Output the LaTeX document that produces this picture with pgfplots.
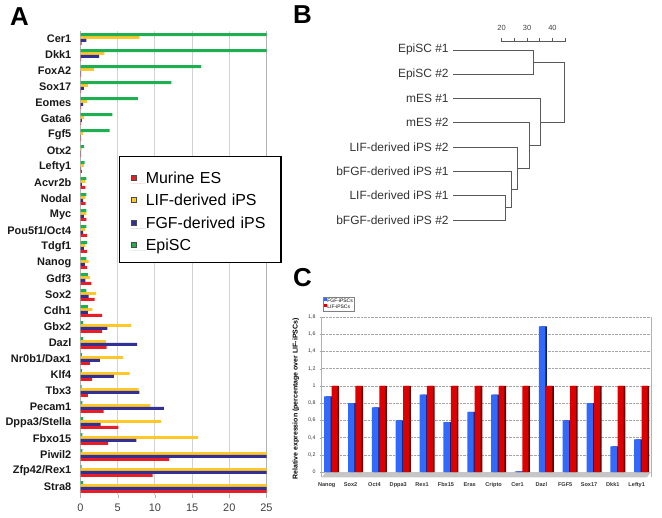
\documentclass[border=0pt]{standalone}
\usepackage{fontspec}
\setmainfont{Liberation Sans}
\usepackage{pgfplots}
\usepackage{pgfplotstable}
\pgfplotsset{compat=1.18}
\definecolor{cRed}{RGB}{232,30,38}
\definecolor{cYel}{RGB}{255,200,40}
\definecolor{cBlu}{RGB}{48,48,150}
\definecolor{cGrn}{RGB}{30,175,80}
\definecolor{cBlue2}{RGB}{50,105,250}
\definecolor{cBlue2d}{RGB}{10,30,120}
\definecolor{cRed2}{RGB}{220,0,0}
\definecolor{cRed2d}{RGB}{105,0,0}

\pgfplotstableread{
y es lif fgf epi
28 0.15 7.9 0.8 25
27 0.1 3.2 2.5 25
26 0.1 1.8 0.1 16.2
25 0.1 1.0 0.45 12.2
24 0.1 0.9 0.35 7.7
23 0.1 0.45 0.2 4.3
22 0.1 0.35 0.05 3.9
21 0.1 0.15 0.05 0.5
20 0.2 0.45 0.1 0.55
19 0.65 0.65 0.2 0.8
18 0.7 0.65 0.35 0.8
17 0.8 0.8 0.45 0.8
16 0.9 0.6 0.35 0.8
15 0.9 0.65 0.45 0.9
14 0.9 1.1 0.6 0.8
13 1.45 1.25 0.65 1.0
12 1.9 2.1 1.1 0.8
11 2.9 1.6 1.0 1.0
10 2.9 6.8 3.6 0.35
9 3.5 3.4 7.6 0.35
8 1.25 5.7 2.6 0.2
7 1.55 6.6 4.5 0.2
6 1.0 7.8 7.9 0.15
5 3.1 9.4 11.2 0.25
4 5.1 10.8 2.7 0.35
3 3.7 15.8 7.5 0.25
2 11.9 25 25 0.25
1 9.7 25 25 0.15
0 25 25 25 0.35
}\dataA

\pgfplotstableread{
x fgf lif
0 0.88 1
1 0.80 1
2 0.75 1
3 0.60 1
4 0.90 1
5 0.58 1
6 0.70 1
7 0.90 1
8 0.01 1
9 1.69 1
10 0.60 1
11 0.80 1
12 0.30 1
13 0.38 1
}\dataC

\begin{document}
\begin{tikzpicture}
\useasboundingbox (0bp,0bp) rectangle (662bp,518bp);

% ---------------- Panel A ----------------
\begin{axis}[
  at={(80.5bp,23bp)}, anchor=south west,
  scale only axis, width=186bp, height=464bp,
  xbar, bar width=0.18,
  xmin=0, xmax=25, ymin=-0.5, ymax=28.5,
  xtick={0,5,...,25},
  ytick={0,...,28},
  yticklabels={Stra8,Zfp42/Rex1,Piwil2,Fbxo15,Dppa3/Stella,Pecam1,Tbx3,Klf4,Nr0b1/Dax1,Dazl,Gbx2,Cdh1,Sox2,Gdf3,Nanog,Tdgf1,Pou5f1/Oct4,Myc,Nodal,Acvr2b,Lefty1,Otx2,Fgf5,Gata6,Eomes,Sox17,FoxA2,Dkk1,Cer1},
  minor ytick={-0.5,0.5,...,28.5},
  xtick pos=left, ytick pos=left,
  tick align=outside,
  major tick length=3bp, minor tick length=3bp,
  ytick style={draw=none},
  xtick style={gray!60},
  minor y tick style={gray!60},
  separate axis lines,
  x axis line style={draw=none},
  y axis line style={draw=gray!60},
  xmajorgrids, grid style={gray!35, line width=0.9bp},
  /pgf/number format/assume math mode=true,
  yticklabel style={font=\bfseries\fontsize{11}{12}\selectfont, text=black!90, inner xsep=2bp, xshift=-4bp},
  xticklabel style={font=\fontsize{11}{12}\selectfont, text=black!75, yshift=-2bp},
  legend style={at={(0.207,0.7306)}, anchor=north west, draw=black, line width=1.3bp,
     font=\fontsize{16}{18}\selectfont, row sep=3bp, inner xsep=11bp, inner ysep=9.5bp,
     nodes={inner sep=0bp, text height=17bp, text depth=2.5bp, anchor=base west, text width=124bp, align=left}},
  legend cell align=left,
  legend image code/.code={\path (0bp,0bp) -- (15bp,0bp); \draw[#1,draw=black!70,line width=0.4bp] (0bp,3bp) rectangle (5.4bp,8.4bp);},
]
\addplot[bar shift=-0.27, fill=cRed, draw=none] table[x=es,y=y]{\dataA};
\addlegendentry{Murine ES}
\addplot[bar shift=0.09, fill=cYel, draw=none] table[x=lif,y=y]{\dataA};
\addlegendentry{LIF-derived iPS}
\addplot[bar shift=-0.09, fill=cBlu, draw=none] table[x=fgf,y=y]{\dataA};
\addlegendentry{FGF-derived iPS}
\addplot[bar shift=0.27, fill=cGrn, draw=none] table[x=epi,y=y]{\dataA};
\addlegendentry{EpiSC}
\end{axis}

% ---------------- Panel B ----------------
\begin{axis}[
  at={(453.3bp,285.85bp)}, anchor=south west,
  scale only axis, width=114.4bp, height=194.4bp,
  xmin=1, xmax=46, ymin=-0.5, ymax=7.5,
  clip=false,
  axis line style={draw=none},
  tick style={draw=none},
  xtick=\empty,
  ytick={0,...,7},
  yticklabels={bFGF-derived iPS \#2,LIF-derived iPS \#1,bFGF-derived iPS \#1,LIF-derived iPS \#2,mES \#2,mES \#1,EpiSC \#2,EpiSC \#1},
  yticklabel style={font=\fontsize{12}{13}\selectfont, text=black!80, inner xsep=0bp, xshift=-4.5bp},
  unbounded coords=jump,
]
\addplot[draw=black!65, line width=0.8bp, mark=none] coordinates {(1,7) (32.7,7) (32.7,6) (1,6)};
\addplot[draw=black!65, line width=0.8bp, mark=none] coordinates {(1,1) (21.6,1) (21.6,0) (1,0)};
\addplot[draw=black!65, line width=0.8bp, mark=none] coordinates {(1,2) (23.9,2) (23.9,0.5) (21.6,0.5)};
\addplot[draw=black!65, line width=0.8bp, mark=none] coordinates {(1,3) (26.1,3) (26.1,1.25) (23.9,1.25)};
\addplot[draw=black!65, line width=0.8bp, mark=none] coordinates {(1,4) (30.9,4) (30.9,2.125) (26.1,2.125)};
\addplot[draw=black!65, line width=0.8bp, mark=none] coordinates {(1,5) (35.3,5) (35.3,3.0625) (30.9,3.0625)};
\addplot[draw=black!65, line width=0.8bp, mark=none] coordinates {(32.7,6.5) (44.7,6.5) (44.7,4.03) (35.3,4.03)};
% scale ruler
\addplot[draw=black!65, line width=0.8bp, mark=none] coordinates {(20,7.34) (45,7.34)};
\addplot[draw=black!65, line width=0.8bp, mark=none] coordinates {(20,7.34) (20,7.48) (nan,nan) (25,7.34) (25,7.48) (nan,nan) (30,7.34) (30,7.48) (nan,nan) (35,7.34) (35,7.48) (nan,nan) (40,7.34) (40,7.48) (nan,nan) (45,7.34) (45,7.48)};
\node[font=\fontsize{7.5}{8}\selectfont, text=black!75] at (axis cs:20,7.9) {20};
\node[font=\fontsize{7.5}{8}\selectfont, text=black!75] at (axis cs:30,7.9) {30};
\node[font=\fontsize{7.5}{8}\selectfont, text=black!75] at (axis cs:40,7.9) {40};
\end{axis}

% ---------------- Panel C ----------------
\begin{axis}[
  at={(321.7bp,40.7bp)}, anchor=south west,
  scale only axis, width=329.3bp, height=160.3bp,
  ybar,
  xmin=-0.42, xmax=13.39, ymin=-0.06, ymax=1.8,
  xtick={0,...,13},
  xticklabels={Nanog,Sox2,Oct4,Dppa3,Rex1,Fbx15,Eras,Cripto,Cer1,Dazl,FGF5,Sox17,Dkk1,Lefty1},
  ytick={0,0.2,...,1.8},
  yticklabels={0,{0,2},{0,4},{0,6},{0,8},1,{1,2},{1,4},{1,6},{1,8}},
  xtick pos=left, ytick pos=left,
  tick align=outside,
  xtick style={draw=none},
  ytick style={gray!70},
  major tick length=2bp,
  separate axis lines,
  x axis line style={draw=none},
  y axis line style={draw=gray!60, line width=1bp},
  ymajorgrids, grid style={densely dotted, gray!70, line width=0.6bp},
  yticklabel style={font=\fontsize{5.3}{6}\selectfont, text=black!80, inner xsep=1bp, xshift=-3bp},
  xticklabel style={font=\bfseries\fontsize{5.6}{6}\selectfont, text=black!80, xshift=-5bp},
  ylabel={Relative expression (percentage over LIF-iPSCs)},
  ylabel style={font=\bfseries\fontsize{7}{8}\selectfont, at={(axis description cs:-0.058,0.49)}},
  legend style={at={(0.004,1.125)}, anchor=north west, draw=black!50, line width=0.3bp,
     font=\fontsize{5}{6}\selectfont, row sep=0bp, inner sep=0.8bp,
     nodes={inner sep=0.4bp, text height=3.8bp, text depth=1.2bp}},
  legend cell align=left,
  legend image code/.code={\fill[#1] (0bp,0.3bp) rectangle (3bp,3.3bp);},
]
% floor
\fill[gray!45] (axis cs:-0.42,-0.06) -- (axis cs:13.22,-0.06) -- (axis cs:13.39,0) -- (axis cs:-0.25,0) -- cycle;
% shadows (3D side faces)
\addplot[bar width=0.27, bar shift=-0.11, fill=cBlue2d, draw=none, forget plot] table[x=x,y=fgf]{\dataC};
\addplot[bar width=0.26, bar shift=0.185, fill=cRed2d, draw=none, forget plot] table[x=x,y=lif]{\dataC};
% main bars
\addplot[bar width=0.27, bar shift=-0.18, fill=cBlue2, draw=none] table[x=x,y=fgf]{\dataC};
\addlegendentry{FGF-iPSCs}
\addplot[bar width=0.25, bar shift=0.12, fill=cRed2, draw=none] table[x=x,y=lif]{\dataC};
\addlegendentry{LIF-iPSCs}
\end{axis}

% panel letters
\node[anchor=north west, inner sep=0pt, font=\bfseries\fontsize{26}{27}\selectfont] at (10bp,511bp) {A};
\node[anchor=north west, inner sep=0pt, font=\bfseries\fontsize{26}{27}\selectfont] at (293bp,513bp) {B};
\node[anchor=north west, inner sep=0pt, font=\bfseries\fontsize{26}{27}\selectfont] at (293bp,250bp) {C};
\end{tikzpicture}
\end{document}
